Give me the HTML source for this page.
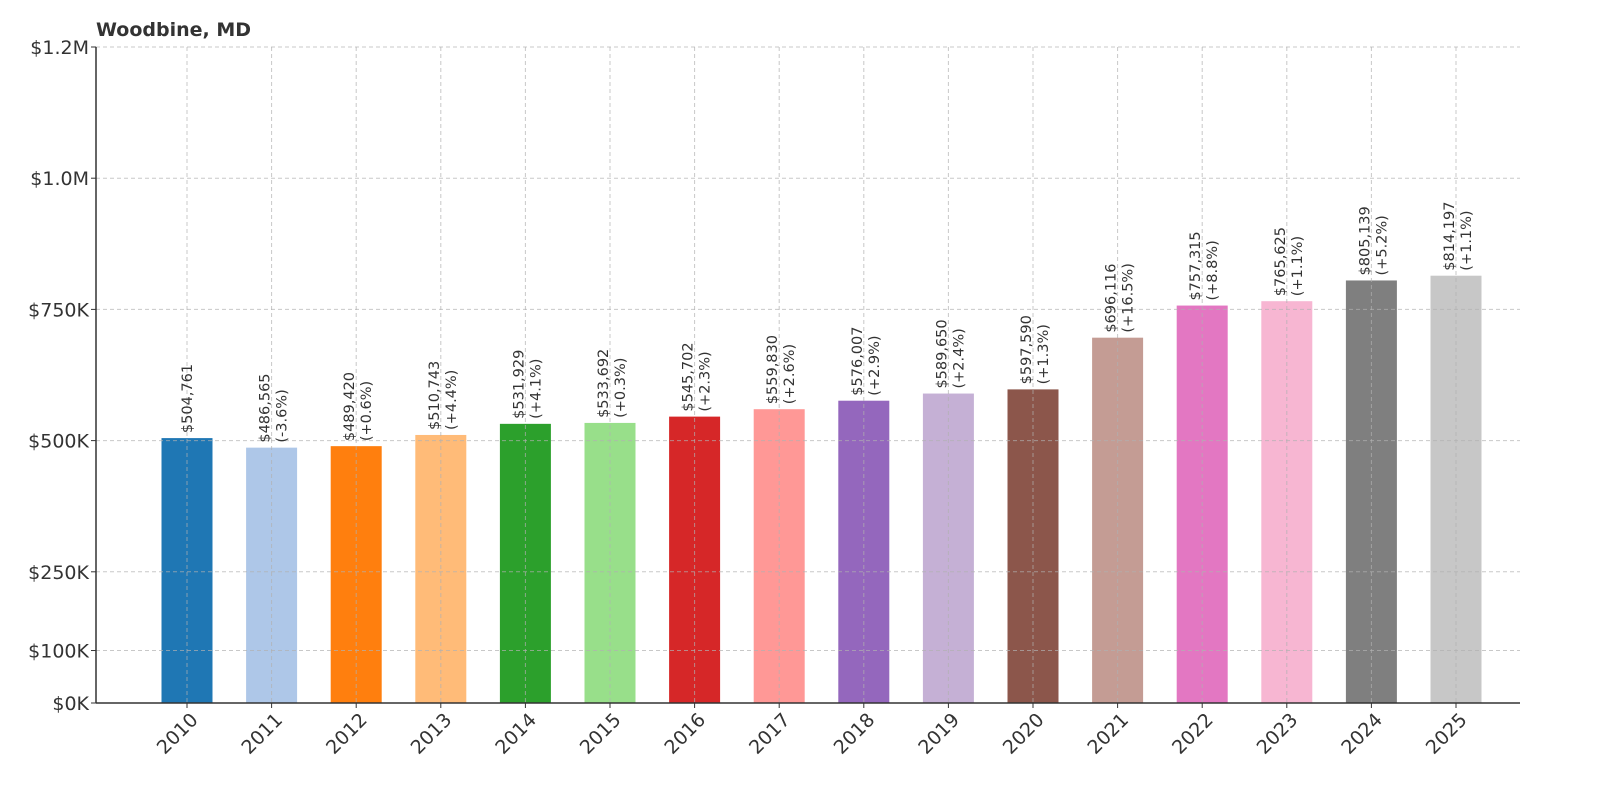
<!DOCTYPE html>
<html><head><meta charset="utf-8"><style>
html,body{margin:0;padding:0;background:#fff;}
svg{display:block;font-family:"DejaVu Sans","Liberation Sans",sans-serif;}
</style></head><body>
<svg id="chart" width="1600" height="800">
<text x="96" y="36" font-size="19" font-weight="bold" fill="#333">Woodbine, MD</text>
<g id="grid"></g><g id="bars"></g><g id="gridtop"></g><g id="labels"></g><g id="axes"></g>
</svg>
<script>
const years = ["2010","2011","2012","2013","2014","2015","2016","2017","2018","2019","2020","2021","2022","2023","2024","2025"];
const values = [504761,486565,489420,510743,531929,533692,545702,559830,576007,589650,597590,696116,757315,765625,805139,814197];
const changes = [null,"-3.6%","+0.6%","+4.4%","+4.1%","+0.3%","+2.3%","+2.6%","+2.9%","+2.4%","+1.3%","+16.5%","+8.8%","+1.1%","+5.2%","+1.1%"];
const yTicks = [0,100000,250000,500000,750000,1000000,1250000];
const yTickLabels = ["$0K","$100K","$250K","$500K","$750K","$1.0M","$1.2M"];
const colors = ["#1f77b4","#aec7e8","#ff7f0e","#ffbb78","#2ca02c","#98df8a","#d62728","#ff9896","#9467bd","#c5b0d5","#8c564b","#c49c94","#e377c2","#f7b6d2","#7f7f7f","#c7c7c7"];

const NS="http://www.w3.org/2000/svg";
const X0=96,X1=1520,Y0=703,YT=47;
const yScale=v=>Y0-(v/1250000)*(Y0-YT);
const xScale=i=>187+i*(1456-187)/(years.length-1);
const BW=51;
function mk(tag,attrs,parent){const e=document.createElementNS(NS,tag);for(const k in attrs)e.setAttribute(k,attrs[k]);parent.appendChild(e);return e;}
const grid=document.getElementById('grid'),bars=document.getElementById('bars'),gt=document.getElementById('gridtop'),labels=document.getElementById('labels'),axes=document.getElementById('axes');

yTicks.forEach((t,i)=>{
  const y=yScale(t);
  const g=mk('line',{x1:X0,x2:X1,y1:y,y2:y,stroke:'#b0b0b0','stroke-width':1,'stroke-dasharray':'4,3','stroke-opacity':0.7},gt);
  
  
  const tk=mk('line',{x1:X0-5,x2:X0,y1:y,y2:y,stroke:'#333','stroke-width':1},axes);
  
  
  const tl=mk('text',{x:X0-7,y:y+7,'text-anchor':'end','font-size':19,fill:'#333'},axes);
  tl.textContent=yTickLabels[i];
  
  
});

years.forEach((yr,i)=>{
  const cx=xScale(i),top=yScale(values[i]);
  const vg=mk('line',{x1:cx,x2:cx,y1:YT,y2:Y0,stroke:'#b0b0b0','stroke-width':1,'stroke-dasharray':'4,3','stroke-opacity':0.7},gt);
  
  
  const r=mk('rect',{x:cx-BW/2,y:top,width:BW,height:Y0-top,fill:colors[i]},bars);
  
  
  const t=mk('text',{transform:`translate(${cx},${top-5}) rotate(-90)`,'font-size':14.5,fill:'#333'},labels);
  
  
  const valStr='$'+values[i].toLocaleString('en-US');
  if(changes[i]===null){
    const s=mk('tspan',{x:0,y:5},t);s.textContent=valStr;
  } else {
    const s1=mk('tspan',{x:0,y:-2},t);s1.textContent=valStr;
    const s2=mk('tspan',{x:0,y:15},t);s2.textContent='('+changes[i]+')';
  }
  const tk=mk('line',{x1:cx,x2:cx,y1:Y0,y2:Y0+5,stroke:'#333','stroke-width':1},axes);
  
  
  const xl=mk('text',{transform:`translate(${cx+12},${Y0+18}) rotate(-45)`,'text-anchor':'end','font-size':19,fill:'#333'},axes);
  xl.textContent=yr;
  
  
});
const ls=mk('line',{x1:X0,x2:X0,y1:YT,y2:Y0,stroke:'#333','stroke-width':1.5},axes);


const bs=mk('line',{x1:X0,x2:X1,y1:Y0,y2:Y0,stroke:'#333','stroke-width':1.5},axes);


</script>
</body></html>
